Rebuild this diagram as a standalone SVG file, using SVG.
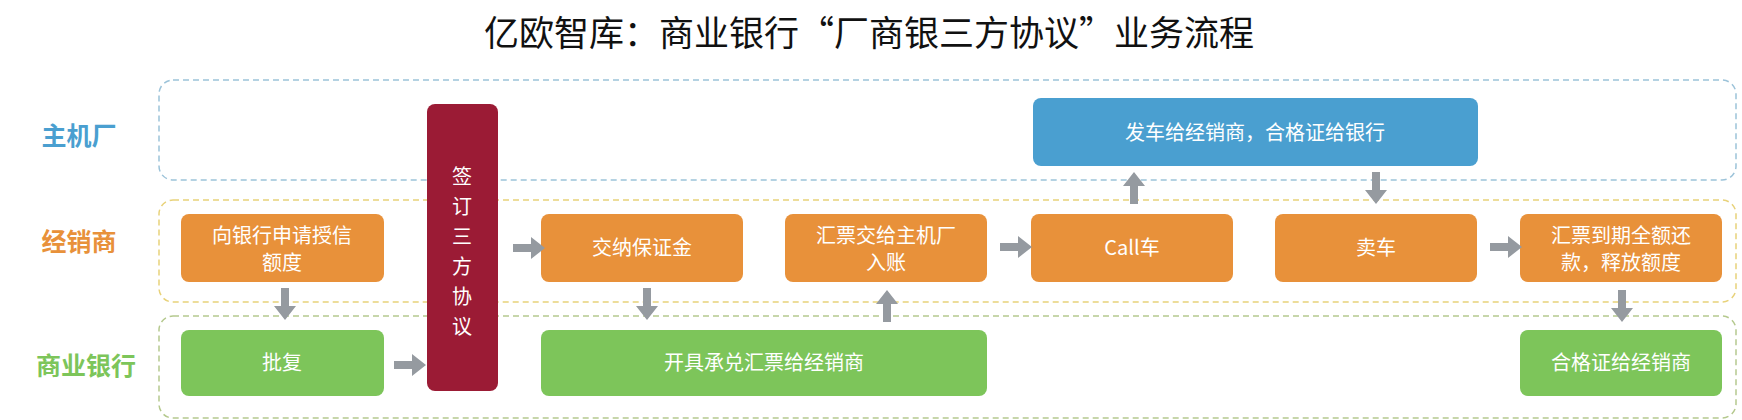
<svg xmlns="http://www.w3.org/2000/svg" width="1742" height="420" viewBox="0 0 1742 420">
<style>
text{font-family:"Noto Sans CJK SC","Noto Sans",sans-serif;}
.t{font-size:35px;fill:#111;}
.lane{fill:none;stroke-width:1.5;stroke-dasharray:6,4;}
.lb{font-size:25px;font-weight:bold;text-anchor:middle;}
.n{font-size:20px;fill:#fff;text-anchor:middle;}
.o{fill:#E8913A;}
.g{fill:#7DC55A;}
.a{fill:#959AA0;}
</style>
<rect width="1742" height="420" fill="#fff"/>
<text class="t" x="869" y="46" text-anchor="middle">亿欧智库：商业银行“厂商银三方协议”业务流程</text>
<g id="lanes">
<rect class="lane" x="159" y="80" width="1577" height="100" rx="14" stroke="#9CC3D9"/>
<rect class="lane" x="159" y="200" width="1577" height="102" rx="14" stroke="#E8D27A"/>
<rect class="lane" x="159" y="316" width="1577" height="102" rx="14" stroke="#B5C98E"/>
<text class="lb" x="79" y="145" fill="#4A9FD0">主机厂</text>
<text class="lb" x="79" y="251" fill="#E8913A">经销商</text>
<text class="lb" x="86" y="375" fill="#7DC55A">商业银行</text>
</g>
<g id="n-sign"><rect x="427" y="104" width="71" height="287" rx="8" fill="#9B1B35"/>
<text class="n" x="462" y="184">签</text><text class="n" x="462" y="214">订</text><text class="n" x="462" y="244">三</text><text class="n" x="462" y="274">方</text><text class="n" x="462" y="304">协</text><text class="n" x="462" y="334">议</text></g>
<g id="n-ship"><rect x="1033" y="98" width="445" height="68" rx="8" fill="#4A9FD0"/><text class="n" x="1255" y="140">发车给经销商，合格证给银行</text></g>
<g id="n-apply"><rect class="o" x="181" y="214" width="203" height="68" rx="8"/><text class="n" x="282" y="243">向银行申请授信</text><text class="n" x="282" y="270">额度</text></g>
<g id="n-deposit"><rect class="o" x="541" y="214" width="202" height="68" rx="8"/><text class="n" x="642" y="255">交纳保证金</text></g>
<g id="n-bill"><rect class="o" x="785" y="214" width="202" height="68" rx="8"/><text class="n" x="886" y="243">汇票交给主机厂</text><text class="n" x="886" y="270">入账</text></g>
<g id="n-call"><rect class="o" x="1031" y="214" width="202" height="68" rx="8"/><text class="n" x="1132" y="255">Call车</text></g>
<g id="n-sell"><rect class="o" x="1275" y="214" width="202" height="68" rx="8"/><text class="n" x="1376" y="255">卖车</text></g>
<g id="n-repay"><rect class="o" x="1520" y="214" width="202" height="68" rx="8"/><text class="n" x="1621" y="243">汇票到期全额还</text><text class="n" x="1621" y="270">款，释放额度</text></g>
<g id="n-approve"><rect class="g" x="181" y="330" width="203" height="66" rx="8"/><text class="n" x="282" y="370">批复</text></g>
<g id="n-issue"><rect class="g" x="541" y="330" width="446" height="66" rx="8"/><text class="n" x="764" y="370">开具承兑汇票给经销商</text></g>
<g id="n-cert"><rect class="g" x="1520" y="330" width="202" height="66" rx="8"/><text class="n" x="1621" y="370">合格证给经销商</text></g>
<g id="connectors" class="a">
<path d="M281,288h8v18h7l-11,14l-11,-14h7z"/>
<path d="M643,288h8v18h7l-11,14l-11,-14h7z"/>
<path d="M1618,290h8v18h7l-11,14l-11,-14h7z"/>
<path d="M1372,172h8v18h7l-11,14l-11,-14h7z"/>
<path d="M883,322h8v-18h7l-11,-14l-11,14h7z"/>
<path d="M1130,204h8v-18h7l-11,-14l-11,14h7z"/>
<path d="M394,361v8h18v7l14,-11l-14,-11v7z"/>
<path d="M513,244v8h18v7l14,-11l-14,-11v7z"/>
<path d="M1000,243v8h18v7l14,-11l-14,-11v7z"/>
<path d="M1490,243v8h18v7l14,-11l-14,-11v7z"/>
</g>
</svg>
